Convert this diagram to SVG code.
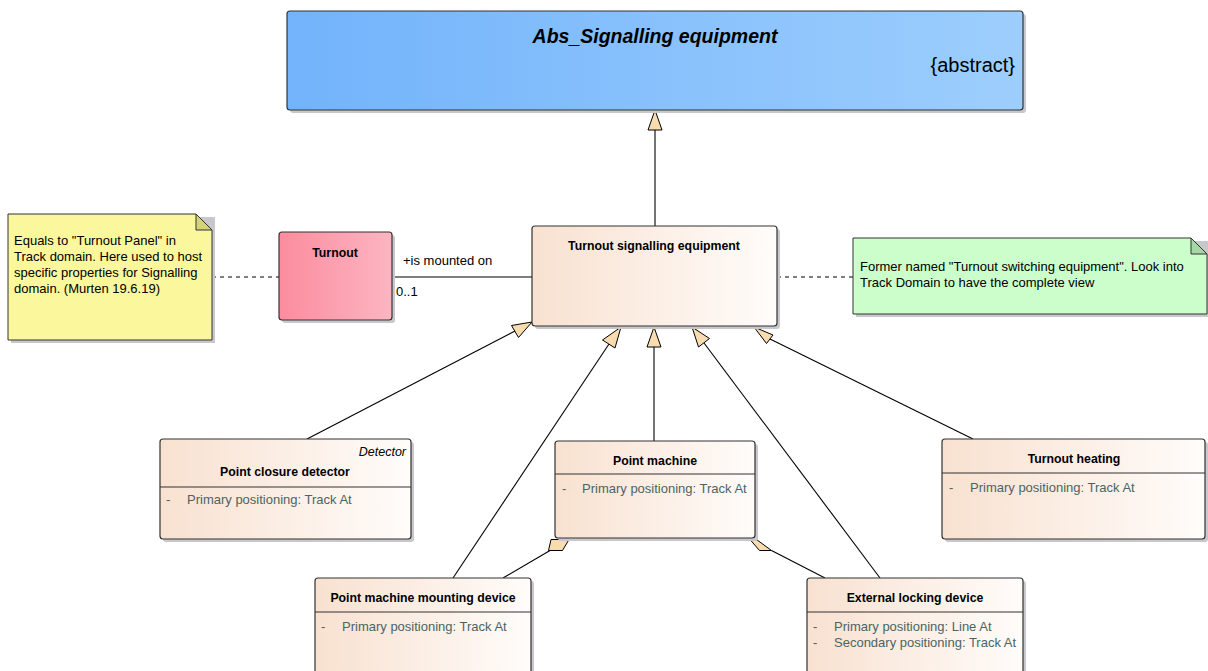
<svg xmlns="http://www.w3.org/2000/svg" width="1208" height="671" viewBox="0 0 1208 671">
<style>
text{font-family:"Liberation Sans",Arial,sans-serif;fill:#000}
.t{font-size:12.3px;font-weight:bold;text-anchor:middle}
.a{font-size:13px;fill:#4a6464}
.n{font-size:13px}
.box{stroke:#333;stroke-width:1.2;fill:url(#gc)}
.sh{fill:#c8c8cc}
.sep{stroke:#333;stroke-width:1}
.ln{stroke:#000;stroke-width:1.1;fill:none}
.dash{stroke:#000;stroke-width:1;stroke-dasharray:4,4;fill:none}
.tri{fill:#f8dcb0;stroke:#000;stroke-width:1}
</style>
<defs>
<linearGradient id="gc" x1="0" y1="0" x2="1" y2="0"><stop offset="0" stop-color="#f8e1d0"/><stop offset="1" stop-color="#fffcfa"/></linearGradient>
<linearGradient id="gb" x1="0" y1="0" x2="1" y2="0"><stop offset="0" stop-color="#72b3fb"/><stop offset="1" stop-color="#9dcefd"/></linearGradient>
<linearGradient id="gp" x1="0" y1="0" x2="1" y2="0"><stop offset="0" stop-color="#fb8c9e"/><stop offset="1" stop-color="#fdb5c2"/></linearGradient>
</defs>

<g id="connectors">
<line class="ln" x1="655" y1="226" x2="655" y2="130"/>
<polygon class="tri" points="655,110 648,130 662,130"/>
<line class="dash" x1="212" y1="277" x2="279" y2="277"/>
<line class="dash" x1="777" y1="277" x2="853" y2="277"/>
<line class="ln" x1="392" y1="277" x2="532" y2="277"/>
<text class="n" x="403" y="265">+is mounted on</text>
<text class="n" x="396" y="296">0..1</text>
<line class="ln" x1="307" y1="439" x2="515" y2="331"/>
<polygon class="tri" points="532,322 511.5,325.5 518.5,337.5"/>
<line class="ln" x1="453" y1="578" x2="609" y2="344"/>
<polygon class="tri" points="621,327 602.5,340 615,348"/>
<line class="ln" x1="654" y1="441" x2="654" y2="347"/>
<polygon class="tri" points="654,327 647,347 661,347"/>
<line class="ln" x1="880" y1="578" x2="704" y2="343"/>
<polygon class="tri" points="692,327 698.5,347 709.5,338.5"/>
<line class="ln" x1="973" y1="439" x2="770" y2="339"/>
<polygon class="tri" points="754,327 766.5,343.5 773,335"/>
<line class="ln" x1="503" y1="578" x2="550" y2="550.5"/>
<polygon class="tri" points="551,539.5 569,539.5 562.5,550.5 548.5,550.5"/>
<line class="ln" x1="825" y1="578" x2="771.5" y2="550.5"/>
<polygon class="tri" points="750,539.5 756.5,539.5 771.5,550.5 759.5,550.5"/>
</g>

<g id="abs">
<rect class="sh" x="290" y="14" width="736" height="99" rx="3"/>
<rect x="287" y="11" width="736" height="99" rx="3" fill="url(#gb)" stroke="#333" stroke-width="1.2"/>
<text x="655" y="43" style="font-size:19.5px;font-weight:bold;font-style:italic;text-anchor:middle">Abs_Signalling equipment</text>
<text x="1015" y="72" style="font-size:20px;text-anchor:end">{abstract}</text>
</g>

<g id="tse">
<rect class="sh" x="535" y="229" width="245" height="100" rx="3"/>
<rect class="box" x="532" y="226" width="245" height="100" rx="3"/>
<text class="t" x="654" y="250">Turnout signalling equipment</text>
</g>

<g id="turnout">
<rect class="sh" x="282" y="235" width="113" height="88" rx="3"/>
<rect x="279" y="232" width="113" height="88" rx="3" fill="url(#gp)" stroke="#333" stroke-width="1.2"/>
<text class="t" x="335" y="257">Turnout</text>
</g>

<g id="note-left">
<polygon points="11,217 215,217 215,343 11,343" fill="#c8c8cc"/>
<polygon points="8,214 196,214 212,230 212,340 8,340" fill="#fbf79c" stroke="#333" stroke-width="1"/>
<polygon points="196,214 196,230 212,230" fill="#d6d27a" stroke="#333" stroke-width="1"/>
<text class="n" x="14" y="245">Equals to "Turnout Panel" in</text>
<text class="n" x="14" y="261">Track domain. Here used to host</text>
<text class="n" x="14" y="277">specific properties for Signalling</text>
<text class="n" x="14" y="293">domain. (Murten 19.6.19)</text>
</g>

<g id="note-right">
<polygon points="856,241 1208,241 1208,317 856,317" fill="#c8c8cc"/>
<polygon points="853,238 1191,238 1207,254 1207,314 853,314" fill="#ccfecc" stroke="#333" stroke-width="1"/>
<polygon points="1191,238 1191,254 1207,254" fill="#a6d8a6" stroke="#333" stroke-width="1"/>
<text class="n" x="860" y="271">Former named "Turnout switching equipment". Look into</text>
<text class="n" x="860" y="287">Track Domain to have the complete view</text>
</g>

<g id="pcd">
<rect class="sh" x="163" y="442" width="251" height="100" rx="3"/>
<rect class="box" x="160" y="439" width="251" height="100" rx="3"/>
<text x="406" y="456" style="font-size:12.5px;font-style:italic;text-anchor:end">Detector</text>
<text class="t" x="285" y="476">Point closure detector</text>
<line class="sep" x1="160" y1="487" x2="411" y2="487"/>
<text class="a" x="166" y="504">-</text>
<text class="a" x="187" y="504">Primary positioning: Track At</text>
</g>

<g id="pm">
<rect class="sh" x="558" y="444" width="200" height="97" rx="3"/>
<rect class="box" x="555" y="441" width="200" height="97" rx="3"/>
<text class="t" x="655" y="465">Point machine</text>
<line class="sep" x1="555" y1="474" x2="755" y2="474"/>
<text class="a" x="562" y="493">-</text>
<text class="a" x="582" y="493">Primary positioning: Track At</text>
</g>

<g id="th">
<rect class="sh" x="945" y="442" width="263" height="100" rx="3"/>
<rect class="box" x="942" y="439" width="263" height="100" rx="3"/>
<text class="t" x="1074" y="463">Turnout heating</text>
<line class="sep" x1="942" y1="473" x2="1205" y2="473"/>
<text class="a" x="949" y="492">-</text>
<text class="a" x="970" y="492">Primary positioning: Track At</text>
</g>

<g id="pmmd">
<rect class="sh" x="318" y="581" width="216" height="100" rx="3"/>
<rect class="box" x="315" y="578" width="216" height="100" rx="3"/>
<text class="t" x="423" y="602">Point machine mounting device</text>
<line class="sep" x1="315" y1="612" x2="531" y2="612"/>
<text class="a" x="321" y="631">-</text>
<text class="a" x="342" y="631">Primary positioning: Track At</text>
</g>

<g id="eld">
<rect class="sh" x="810" y="581" width="216" height="100" rx="3"/>
<rect class="box" x="807" y="578" width="216" height="100" rx="3"/>
<text class="t" x="915" y="602">External locking device</text>
<line class="sep" x1="807" y1="612" x2="1023" y2="612"/>
<text class="a" x="813" y="631">-</text>
<text class="a" x="834" y="631">Primary positioning: Line At</text>
<text class="a" x="813" y="647">-</text>
<text class="a" x="834" y="647">Secondary positioning: Track At</text>
</g>
</svg>
